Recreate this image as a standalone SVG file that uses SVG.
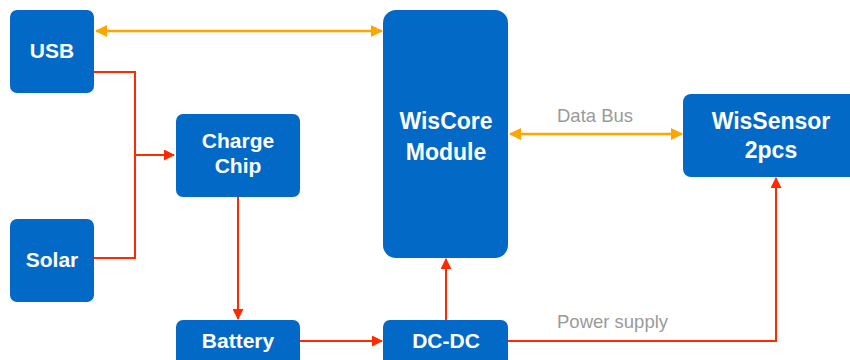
<svg xmlns="http://www.w3.org/2000/svg" width="850" height="360" viewBox="0 0 850 360">
<defs>
<style>
.node{fill:#0369C6;}
.t{font-family:"Liberation Sans",Arial,sans-serif;font-weight:bold;font-size:21px;fill:#fff;text-anchor:middle;}
.big{font-size:23px;}
.lbl{font-family:"Liberation Sans",Arial,sans-serif;font-size:18.5px;fill:#9a9a9a;}
.red{stroke:#FF2A00;stroke-width:2;fill:none;}
.org{stroke:#FFA500;stroke-width:2.5;fill:none;}
</style>
<marker id="ar" markerWidth="11" markerHeight="11" refX="10" refY="5.5" orient="auto" markerUnits="userSpaceOnUse">
<path d="M0,0 L11,5.5 L0,11 Z" fill="#FF2A00"/>
</marker>
<marker id="ao" markerWidth="12" markerHeight="12" refX="11" refY="6" orient="auto-start-reverse" markerUnits="userSpaceOnUse">
<path d="M0,0 L12,6 L0,12 Z" fill="#FFA500"/>
</marker>
</defs>
<rect width="850" height="360" fill="#fff"/>
<g id="connectors">
<line class="org" x1="96" y1="31" x2="382" y2="31" marker-start="url(#ao)" marker-end="url(#ao)"/>
<line class="org" x1="510" y1="134" x2="682" y2="134" marker-start="url(#ao)" marker-end="url(#ao)"/>
<polyline class="red" points="94,72 135,72 135,258 94,258"/>
<line class="red" x1="135" y1="155" x2="174" y2="155" marker-end="url(#ar)"/>
<line class="red" x1="238" y1="197" x2="238" y2="319" marker-end="url(#ar)"/>
<line class="red" x1="300" y1="341" x2="382" y2="341" marker-end="url(#ar)"/>
<line class="red" x1="446" y1="320" x2="446" y2="259" marker-end="url(#ar)"/>
<polyline class="red" points="508,341 776,341 776,178" marker-end="url(#ar)"/>
<text class="lbl" x="557" y="122">Data Bus</text>
<text class="lbl" x="557" y="328">Power supply</text>
</g>
<g id="usb"><rect class="node" x="10" y="10" width="84" height="83" rx="7"/><text class="t" x="52" y="58">USB</text></g>
<g id="solar"><rect class="node" x="10" y="219" width="84" height="83" rx="7"/><text class="t" x="52" y="267">Solar</text></g>
<g id="charge"><rect class="node" x="176" y="114" width="124" height="83" rx="7"/><text class="t" x="238" y="148">Charge</text><text class="t" x="238" y="173">Chip</text></g>
<g id="wiscore"><rect class="node" x="383" y="10" width="125" height="248" rx="13"/><text class="t big" x="446" y="129">WisCore</text><text class="t big" x="446" y="160">Module</text></g>
<g id="wissensor"><rect class="node" x="683" y="94" width="175" height="83" rx="8"/><text class="t big" x="771" y="129">WisSensor</text><text class="t big" x="771" y="158">2pcs</text></g>
<g id="battery"><rect class="node" x="176" y="320" width="124" height="50" rx="7"/><text class="t" x="238" y="348">Battery</text></g>
<g id="dcdc"><rect class="node" x="383" y="320" width="125" height="50" rx="7"/><text class="t" x="446" y="348">DC-DC</text></g>
</svg>
